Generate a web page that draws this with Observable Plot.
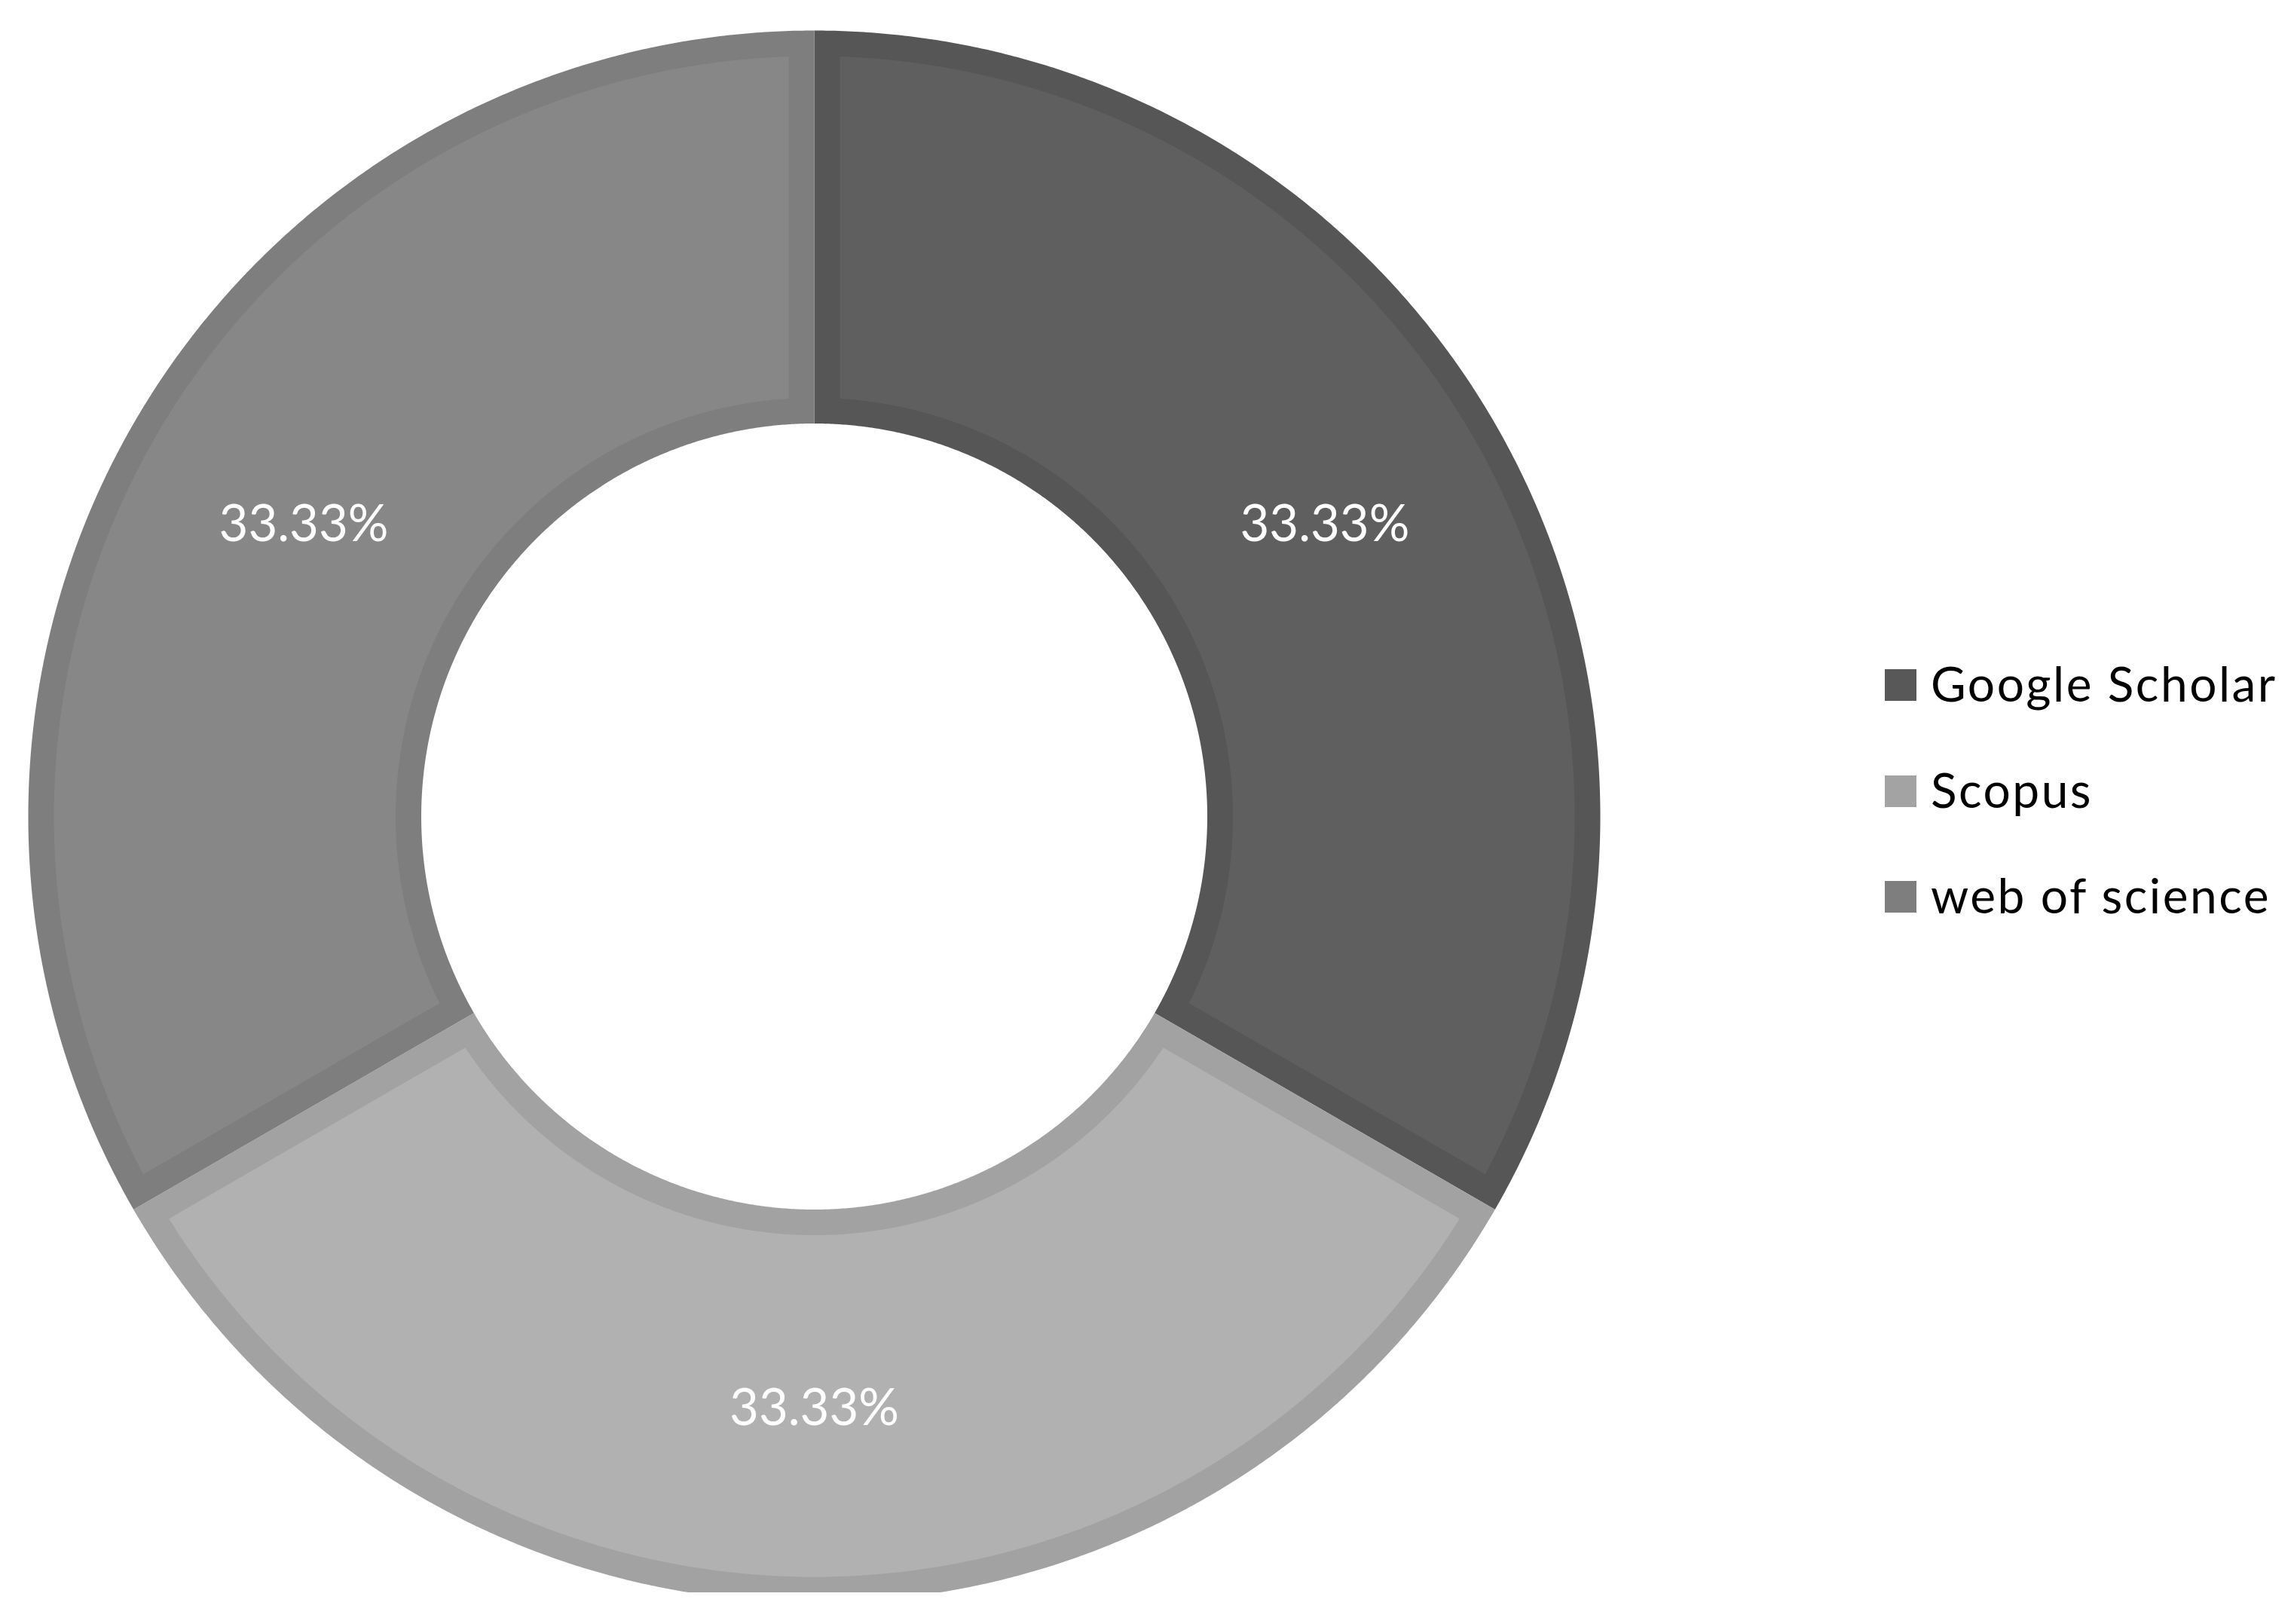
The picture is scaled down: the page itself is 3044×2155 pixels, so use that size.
<!DOCTYPE html>
<html>
<head>
<meta charset="utf-8">
<script src="https://cdn.jsdelivr.net/npm/d3@7"></script>
<script src="https://cdn.jsdelivr.net/npm/@observablehq/plot@0.6"></script>
<style>
  html, body { margin: 0; padding: 0; background: #fff; }
  #wrap { position: relative; width: 3044px; height: 2155px; background: #fff; overflow: hidden; }
  #chart { position: absolute; left: 0; top: 0; }
  #legend { position: absolute; left: 0; top: 0; font-family: Lato, "Open Sans", sans-serif; font-size: 64px; letter-spacing: 2.5px; color: #000; }
  .item { position: absolute; left: 2501px; height: 42px; display: flex; align-items: center; white-space: nowrap; }
  .sw { width: 42px; height: 42px; margin-right: 19px; flex: none; }
  .lt { line-height: 64px; position: relative; top: -2px; }
</style>
</head>
<body>
<div id="wrap">
  <div id="chart"></div>
  <div id="legend"></div>
</div>
<script>
// ---- data ----
const categories = ["Google Scholar", "Scopus", "web of science"];
const values = [33.33, 33.33, 33.33];
const labels = ["33.33%", "33.33%", "33.33%"];
const fillColors = ["#5f5f5f", "#b1b1b1", "#878787"];
const borderColors = ["#565656", "#a2a2a2", "#7e7e7e"];
const legendColors = ["#585858", "#a3a3a3", "#7e7e7e"];

// ---- geometry (donut in data units, outer radius 1) ----
const R1 = 1, R0 = 0.5, inset = 34 / 1043;
const total = d3.sum(values);
let acc = 0;
const slices = values.map((v, i) => {
  const a0 = acc / total * 2 * Math.PI;
  acc += v;
  const a1 = acc / total * 2 * Math.PI;
  return {cat: categories[i], a0, a1, i};
});

function ringPoints(a0, a1, r0, r1, d) {
  const ro = r1 - d, ri = r0 + d;
  const oa0 = a0 + Math.asin(d / ro), oa1 = a1 - Math.asin(d / ro);
  const ia0 = a0 + Math.asin(d / ri), ia1 = a1 - Math.asin(d / ri);
  const pts = [];
  const n = 400;
  for (let k = 0; k <= n; k++) {
    const a = oa0 + (oa1 - oa0) * k / n;
    pts.push({x: ro * Math.sin(a), y: ro * Math.cos(a)});
  }
  for (let k = 0; k <= n; k++) {
    const a = ia1 + (ia0 - ia1) * k / n;
    pts.push({x: ri * Math.sin(a), y: ri * Math.cos(a)});
  }
  return pts;
}

const marks = [];
for (const s of slices) {
  marks.push(Plot.line(ringPoints(s.a0, s.a1, R0, R1, 0), {
    x: "x", y: "y", fill: borderColors[s.i], stroke: "none", curve: "linear-closed", clip: true
  }));
}
for (const s of slices) {
  marks.push(Plot.line(ringPoints(s.a0, s.a1, R0, R1, inset), {
    x: "x", y: "y", fill: fillColors[s.i], stroke: "none", curve: "linear-closed", clip: true
  }));
}
const labelRows = slices.map(s => {
  const a = (s.a0 + s.a1) / 2, r = (R0 + R1) / 2;
  return {x: r * Math.sin(a), y: r * Math.cos(a), text: labels[s.i]};
});
marks.push(Plot.text(labelRows, {
  x: "x", y: "y", text: "text", fill: "white", fontSize: 67, dy: 4,
  fontFamily: "Lato, 'Open Sans', sans-serif", textAnchor: "middle", lineAnchor: "middle"
}));

const chart = Plot.plot({
  width: 2160,
  height: 2113,
  marginTop: 0, marginBottom: 0, marginLeft: 0, marginRight: 0,
  x: {domain: [-1, 1], range: [37, 2123], axis: null},
  y: {domain: [-1, 1], range: [2126, 40], axis: null},
  style: {background: "white"},
  marks
});
document.getElementById("chart").appendChild(chart);

// ---- legend ----
const legend = document.getElementById("legend");
categories.forEach((c, i) => {
  const item = document.createElement("div");
  item.className = "item";
  item.style.top = (888 + i * 140.5) + "px";
  const sw = document.createElement("span");
  sw.className = "sw";
  sw.style.background = legendColors[i];
  const t = document.createElement("span");
  t.className = "lt";
  t.textContent = c;
  item.appendChild(sw);
  item.appendChild(t);
  legend.appendChild(item);
});
</script>
</body>
</html>
